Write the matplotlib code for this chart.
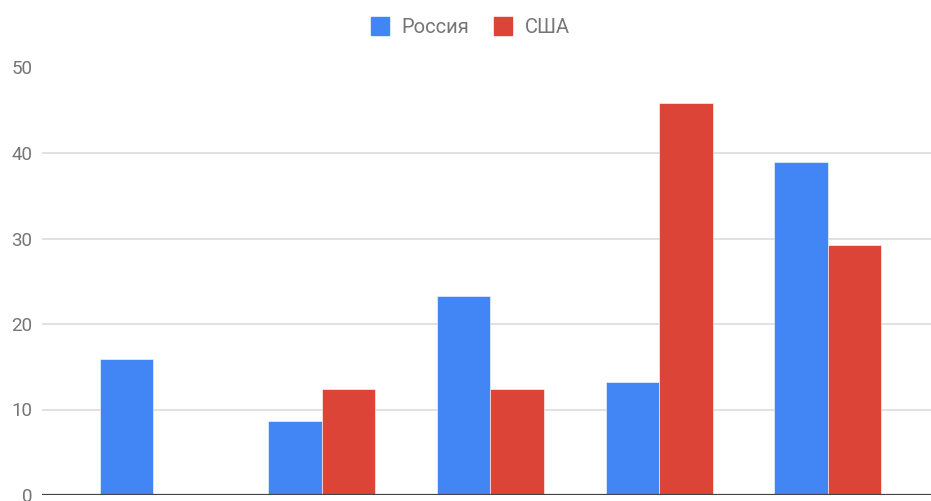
import matplotlib
matplotlib.use("Agg")
import matplotlib.pyplot as plt
import numpy as np
from matplotlib.lines import Line2D

plt.rcParams['font.family'] = ['Roboto', 'DejaVu Sans']

categories = ["1", "2", "3", "4", "5"]
series_names = ["Россия", "США"]
russia = [15.9, 8.7, 23.3, 13.2, 39.0]
usa = [0.0, 12.4, 12.4, 45.8, 29.2]
yticks = [0, 10, 20, 30, 40, 50]

blue = "#4285F4"
red = "#DB4437"

fig = plt.figure(figsize=(9.31, 5.01), dpi=100)
ax = fig.add_axes([42/931, 6/501, 1 - 42/931, (495 - 67.5)/501])

x = np.arange(len(categories))
w = 0.317
ax.bar(x - w/2, russia, width=w, color=blue, edgecolor="white", linewidth=0.4, zorder=3)
ax.bar(x + w/2, usa, width=w, color=red, edgecolor="white", linewidth=0.4, zorder=3)

ax.set_xlim(-0.66, 4.613)
ax.set_ylim(0, 50)
ax.set_yticks(yticks)
ax.set_yticklabels([str(t) for t in yticks])
ax.set_xticks([])
ax.tick_params(axis='y', length=0, pad=7, labelsize=13.5, labelcolor="#757575")
for t in yticks[1:]:
    ax.axhline(t, color="#d9d9d9", linewidth=1.1, zorder=1)
ax.axhline(0, color="#444444", linewidth=1.6, zorder=4)
for s in ax.spines.values():
    s.set_visible(False)

handles = [Line2D([], [], marker='s', linestyle='none', markersize=13.5,
                  markerfacecolor=c, markeredgecolor=c) for c in (blue, red)]
fig.legend(handles, series_names, loc='center', bbox_to_anchor=(470/931, 1 - 27.5/501),
           ncol=2, frameon=False, fontsize=14.5, labelcolor="#757575",
           handletextpad=0.6, columnspacing=1.2, handlelength=0.95)

fig.savefig("out.png", dpi=100)
